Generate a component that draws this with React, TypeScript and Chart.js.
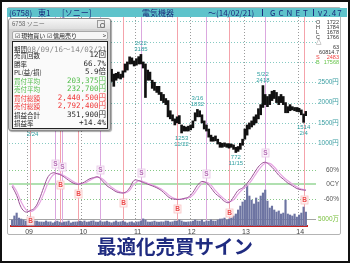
import { useEffect, useRef } from 'react';
import { Chart, registerables } from 'chart.js';

Chart.register(...registerables);

// Half-month periods: index 0 = 2008-09 (late) ... index 130 = 2014-02 (late)
const yearLabels = ['09', '10', '11', '12', '13', '14'];
const yearStartIdx = [7, 31, 55, 79, 103, 127];

// Price range per period (円)
const priceLow = [
  3300, 2600, 2000, 1900, 1750, 1800, 1880, 1850, 1650, 1491,
  1520, 1600, 1800, 2000, 2150, 2300, 2350, 2450, 2350, 2150,
  2300, 2450, 2400, 2450, 2450, 2350, 2400, 2300, 2300, 2450,
  2600, 2800, 2950, 2850, 2900, 3050, 3250, 3400, 3250, 2800,
  2700, 2700, 2450, 2350, 2520, 2400, 2550, 2600, 2580, 2620,
  2750, 2800, 2950, 2950, 2900, 2920, 2950, 2950, 2850, 2125,
  2550, 2550, 2350, 2300, 2250, 2200, 2050, 2000, 1950, 1650,
  1600, 1550, 1450, 1500, 1480, 1253, 1300, 1300, 1300, 1330,
  1380, 1550, 1650, 1650, 1500, 1350, 1300, 1150, 1050, 1050,
  1060, 980, 900, 900, 920, 900, 880, 900, 850, 772,
  800, 850, 950, 1100, 1200, 1350, 1400, 1450, 1500, 1600,
  1700, 1880, 1950, 1900, 1950, 2050, 2100, 2000, 1950, 2000,
  1950, 1750, 1750, 1800, 1820, 1800, 1780, 1770, 1700, 1514,
  1678,
];
const priceHigh = [
  3720, 3450, 2780, 2350, 2100, 2050, 2150, 2100, 1900, 1700,
  1680, 1850, 2050, 2400, 2450, 2600, 2600, 2750, 2600, 2450,
  2550, 2700, 2600, 2700, 2650, 2550, 2600, 2500, 2550, 2700,
  2720, 3300, 3300, 3100, 3100, 3350, 3600, 3650, 3500, 3300,
  2950, 2900, 2750, 2550, 2820, 2700, 2720, 2750, 2700, 2780,
  2950, 3000, 3125, 3100, 3025, 3080, 3130, 3185, 3000, 2950,
  2800, 2750, 2550, 2500, 2400, 2400, 2250, 2200, 2100, 2050,
  1800, 1700, 1600, 1650, 1680, 1450, 1420, 1400, 1420, 1450,
  1550, 1750, 1832, 1800, 1700, 1550, 1450, 1350, 1200, 1150,
  1180, 1100, 1020, 1000, 1010, 990, 990, 980, 960, 900,
  920, 1000, 1100, 1350, 1450, 1500, 1550, 1650, 1700, 1850,
  1950, 2418, 2200, 2150, 2200, 2280, 2300, 2250, 2150, 2200,
  2150, 2000, 1900, 1950, 1900, 1880, 1880, 1860, 1820, 1720,
  1784,
];

// Volume per period (万株)
const volume = [
  4300, 7200, 9300, 5700, 5000, 4300, 3600,
  4300, 6400, 5000, 3600, 3500, 2900,
  2900, 2800, 3600, 2900, 3000, 2200, 2900, 3500, 2800, 2300, 2900, 3000, 3600, 2200, 2800, 2900, 3000, 3500,
  2900, 3600, 2800, 3000, 3500, 3700, 2900, 2800, 3600, 2900, 3000, 3500, 2800, 2300, 2900, 3600, 2800, 3000, 3500, 2900, 2200, 2800, 3000, 2300,
  2900, 3000, 3600, 5100, 4300, 2900, 2800, 3000, 3500, 2900, 2800, 3000, 2900, 3600, 3500, 2800, 3000, 3600,
  3500, 4300, 3600, 2900, 2800, 3000, 2900, 3500, 4300, 3600, 3500, 4300, 2900, 3600, 3500, 4400, 3600, 3500,
  4300, 5000, 5100, 5700, 4300, 5000,
  5700, 7200, 8600, 11500, 14300, 17200, 18600, 29400, 21500, 18600, 15800, 20100, 17200, 21500, 23700, 25800, 17900,
  12900, 14300, 11500, 10000, 10800, 8600, 9300, 18600, 8600, 7900, 7200, 8600, 6400, 7900, 9300, 13600, 10000,
];

// Oscillator (%), one value every other period
const oscMain = [
  -8, -45, -95, -114, -108, -97, -62, -12, 33, 48,
  44, 37, 24, 11, 2, 2, 10, 22, 28, 31,
  14, -6, -18, -30, -35, -33, -14, 17, 16, 8,
  1, -6, -14, -25, -42, -57, -61, -62, -58, -52,
  -33, -4, 12, 6, -14, -38, -53, -70, -75, -52,
  -25, -14, 5, 30, 60, 83, 92, 80, 61, 38,
  22, 6, -5, -17, -22, -24,
];
const oscSignal = [
  0, -28, -72, -103, -113, -104, -80, -38, 8, 38,
  46, 41, 31, 18, 7, 2, 5, 15, 25, 30,
  23, 5, -11, -24, -32, -35, -24, 2, 15, 12,
  5, -2, -10, -19, -33, -49, -58, -62, -60, -56,
  -44, -19, 3, 9, -3, -26, -45, -61, -72, -64,
  -40, -20, -5, 17, 45, 71, 88, 87, 72, 50,
  31, 15, 2, -10, -19, -23,
];

// Trade signals (period index)
const buyIdx = [8, 21, 29, 49, 73, 96, 129];
const sellIdx = [19, 22, 39, 57, 86, 112];

// Marked highs / lows
const extremeIdx = [9, 57, 75, 82, 99, 111, 129];
const extremeDate = ['2/24', '2/22', '11/22', '3/16', '11/15', '5/22', '2/4'];
const extremeIsHigh = [false, true, false, true, false, true, false];

const priceTicks = [1000, 1500, 2000, 2500];
const priceGrid = [1000, 1500, 2000, 2500, 3000, 3500, 4000];
const oscLevels = [60, 0, -60];
const oscLevelLabels = ['60%', '0CY', '-60%'];
const volRef = 5000;
const volRefLabel = '5000万';

// Summary panel
const panelLabels = ['売買回数', '勝率', 'PL(益/損)', '買付平均', '売付平均', '買付総額', '売付総額', '損益合計', '損益率'];
const panelValues = ['12回', '66.7%', '5.9倍', '203,375円', '232,700円', '2,440,500円', '2,792,400円', '351,900円', '+14.4%'];
const panelColors = ['#2a2a2a', '#2a2a2a', '#2a2a2a', '#52bd4b', '#52bd4b', '#f03838', '#f03838', '#2a2a2a', '#2a2a2a'];

// Quote block
const quoteKeys = ['O', 'H', 'L', 'C', '△', '', '', 'S', 'B'];
const quoteVals = ['1722', '1784', '1678', '1766', '', '63', '60814.7', '2483', '17568'];
const quoteColors = ['#333', '#333', '#333', '#333', '#333', '#333', '#333', '#f04040', '#66c44a'];

const FONT_UI = '"Liberation Sans", Arial, "Noto Sans CJK JP", sans-serif';
const FONT_JP = '"Noto Sans CJK JP", sans-serif';
const FONT_MONO = '"DejaVu Sans Mono", "Liberation Mono", "Noto Sans CJK JP", monospace';

function oscAt(idx: number) {
  const j = idx / 2;
  const a = Math.floor(j);
  const b = Math.min(Math.ceil(j), oscMain.length - 1);
  const t = j - a;
  return oscMain[a] * (1 - t) + oscMain[b] * t;
}

const chartDecor = {
  id: 'chartDecor',
  beforeDatasetsDraw(chart: any) {
    const { ctx, chartArea: ca, scales } = chart;
    const x = scales.x, yP = scales.yPrice, yO = scales.yOsc, yV = scales.yVol;
    const lineEnd = 316;
    ctx.save();
    ctx.lineWidth = 1;
    // price grid
    ctx.setLineDash([1, 2]);
    ctx.strokeStyle = '#86c9c2';
    for (const v of priceGrid) {
      const y = Math.round(yP.getPixelForValue(v)) + 0.5;
      ctx.beginPath(); ctx.moveTo(ca.left - 2, y); ctx.lineTo(lineEnd, y); ctx.stroke();
    }
    // oscillator levels
    ctx.strokeStyle = '#86c886';
    for (const v of [60, -60]) {
      const y = Math.round(yO.getPixelForValue(v)) + 0.5;
      ctx.beginPath(); ctx.moveTo(ca.left - 2, y); ctx.lineTo(lineEnd, y); ctx.stroke();
    }
    ctx.setLineDash([]);
    ctx.strokeStyle = '#b0e0b0';
    ctx.lineWidth = 2;
    {
      const y = Math.round(yO.getPixelForValue(0));
      ctx.beginPath(); ctx.moveTo(ca.left - 2, y); ctx.lineTo(lineEnd, y); ctx.stroke();
    }
    // volume reference
    ctx.lineWidth = 1;
    ctx.strokeStyle = '#a4a4a4';
    {
      const y = Math.round(yV.getPixelForValue(volRef)) + 0.5;
      ctx.beginPath(); ctx.moveTo(ca.left - 2, y); ctx.lineTo(lineEnd, y); ctx.stroke();
    }
    // year separators
    ctx.setLineDash([1, 2]);
    ctx.strokeStyle = '#9a9a9a';
    for (const i of yearStartIdx) {
      const px = Math.round(x.getPixelForValue(i - 0.5)) + 0.5;
      ctx.beginPath(); ctx.moveTo(px, ca.top); ctx.lineTo(px, ca.bottom); ctx.stroke();
    }
    ctx.setLineDash([]);
    // signal lines
    ctx.strokeStyle = '#f4a3ab';
    for (const i of buyIdx) {
      const px = Math.round(x.getPixelForValue(i)) + 0.5;
      ctx.beginPath(); ctx.moveTo(px, ca.top); ctx.lineTo(px, ca.bottom); ctx.stroke();
    }
    ctx.strokeStyle = '#dba8df';
    for (const i of sellIdx) {
      const px = Math.round(x.getPixelForValue(i)) + 0.5;
      ctx.beginPath(); ctx.moveTo(px, ca.top); ctx.lineTo(px, ca.bottom); ctx.stroke();
    }
    ctx.restore();
  },
  afterDatasetsDraw(chart: any) {
    const { ctx, scales } = chart;
    const x = scales.x, yP = scales.yPrice, yO = scales.yOsc, yV = scales.yVol;
    ctx.save();
    // buy / sell markers
    ctx.font = 'bold 6.5px "Liberation Sans", Arial, sans-serif';
    ctx.textAlign = 'center';
    ctx.textBaseline = 'middle';
    ctx.lineWidth = 0.8;
    for (const i of buyIdx) {
      const px = Math.round(x.getPixelForValue(i));
      const py = Math.round(yO.getPixelForValue(oscAt(i))) + 10;
      ctx.fillStyle = 'rgba(255,242,242,0.9)';
      ctx.fillRect(px - 3, py - 4, 7, 8);
      ctx.strokeStyle = '#f8c4c4';
      ctx.strokeRect(px - 3, py - 4, 7, 8);
      ctx.fillStyle = '#ec4a4a';
      ctx.fillText('B', px + 0.5, py + 0.5);
    }
    for (const i of sellIdx) {
      const px = Math.round(x.getPixelForValue(i));
      const py = Math.round(yO.getPixelForValue(oscAt(i))) - 9;
      ctx.fillStyle = 'rgba(252,244,252,0.9)';
      ctx.fillRect(px - 3, py - 4, 7, 8);
      ctx.strokeStyle = '#e6c6e6';
      ctx.strokeRect(px - 3, py - 4, 7, 8);
      ctx.fillStyle = '#b46cb4';
      ctx.fillText('S', px + 0.5, py + 0.5);
    }
    // high / low annotations
    ctx.font = '6px "Liberation Sans", Arial, sans-serif';
    ctx.fillStyle = '#2f9fa0';
    extremeIdx.forEach((i, k) => {
      const px = x.getPixelForValue(i);
      if (extremeIsHigh[k]) {
        const py = yP.getPixelForValue(priceHigh[i]);
        ctx.fillText(extremeDate[k], px, py - 11);
        ctx.fillText(String(priceHigh[i]), px, py - 5);
      } else {
        const py = yP.getPixelForValue(priceLow[i]);
        ctx.fillText(String(priceLow[i]), px, py + 5);
        ctx.fillText(extremeDate[k], px, py + 11);
      }
    });
    // right-side level labels
    ctx.font = '6.5px "Liberation Sans", Arial, "Noto Sans CJK JP", sans-serif';
    ctx.textAlign = 'right';
    ctx.fillStyle = '#555';
    oscLevels.forEach((v, k) => ctx.fillText(oscLevelLabels[k], 339, yO.getPixelForValue(v)));
    ctx.fillStyle = '#78bf3c';
    ctx.fillText(volRefLabel, 339, yV.getPixelForValue(volRef));
    ctx.restore();
  },
};

export default function App() {
  const canvasRef = useRef<HTMLCanvasElement>(null);

  useEffect(() => {
    Chart.defaults.font.family = '"Liberation Sans", Arial, sans-serif';
    const chart = new Chart(canvasRef.current as HTMLCanvasElement, {
      type: 'bar',
      data: {
        datasets: [
          {
            type: 'bar',
            label: '株価',
            data: priceHigh.map((h, i) => ({ x: i, y: [priceLow[i], h] })) as any,
            backgroundColor: '#111',
            barThickness: 2,
            grouped: false,
            yAxisID: 'yPrice',
            order: 0,
          },
          {
            type: 'line',
            label: 'オシレーター',
            data: oscMain.map((v, k) => ({ x: k * 2, y: v })),
            borderColor: '#9a4f95',
            borderWidth: 1,
            pointRadius: 0,
            tension: 0.4,
            yAxisID: 'yOsc',
            order: 1,
          },
          {
            type: 'line',
            label: 'シグナル',
            data: oscSignal.map((v, k) => ({ x: k * 2, y: v })),
            borderColor: '#e6a3e2',
            borderWidth: 1.2,
            pointRadius: 0,
            tension: 0.4,
            yAxisID: 'yOsc',
            order: 2,
          },
          {
            type: 'bar',
            label: '出来高',
            data: volume.map((v, i) => ({ x: i, y: v })),
            backgroundColor: '#6d74a2',
            barThickness: 1.5,
            grouped: false,
            yAxisID: 'yVol',
            order: 3,
          },
        ],
      },
      options: {
        responsive: false,
        devicePixelRatio: 1,
        animation: false,
        events: [],
        layout: { padding: { left: 11, top: 17, right: 0, bottom: 0 } },
        plugins: { legend: { display: false }, tooltip: { enabled: false } },
        scales: {
          x: {
            type: 'linear',
            min: -0.5,
            max: 130.5,
            offset: false,
            grid: { display: false, drawTicks: false },
            border: { display: true, color: '#c42222', width: 2 },
            afterBuildTicks: (axis: any) => {
              axis.ticks = yearStartIdx.map((v) => ({ value: v + 0.5 }));
            },
            afterFit: (axis: any) => {
              axis.height = 37;
            },
            ticks: {
              autoSkip: false,
              maxRotation: 0,
              padding: 2,
              color: '#444',
              font: { size: 7 },
              callback: (v: any) => {
                const k = yearStartIdx.indexOf(Math.round(Number(v) - 0.5));
                return k >= 0 ? yearLabels[k] : '';
              },
            },
          },
          yPrice: {
            type: 'linear',
            position: 'right',
            min: -1035,
            max: 4105,
            grid: { display: false, drawTicks: false },
            border: { display: false },
            afterBuildTicks: (axis: any) => {
              axis.ticks = priceTicks.map((v) => ({ value: v }));
            },
            afterFit: (axis: any) => {
              axis.width = 43;
            },
            ticks: {
              padding: 11,
              crossAlign: 'near',
              color: '#3b9ea2',
              font: { size: 6.5 },
              callback: (v: any) => `${v}円`,
            },
          },
          yOsc: { type: 'linear', display: false, min: -172, max: 693 },
          yVol: { type: 'linear', display: false, min: 0, max: 150000 },
        },
      } as any,
      plugins: [chartDecor],
    });
    return () => chart.destroy();
  }, []);

  const rowH = 8.51;

  return (
    <div style={{ position: 'absolute', left: 0, top: 0, width: 350, height: 263, background: '#fff', overflow: 'hidden', fontFamily: FONT_UI }}>
      <canvas ref={canvasRef} width={350} height={263} style={{ position: 'absolute', left: 0, top: 0 }} />

      {/* chart frame */}
      <div style={{ position: 'absolute', left: 7, top: 7, width: 334, height: 228, border: '1px solid #b4b4b4', borderRadius: 2, boxSizing: 'border-box' }} />

      {/* header bar */}
      <div style={{ position: 'absolute', left: 7, top: 8, width: 340, height: 9, background: '#5ec3cb', color: '#1b2c7c', fontFamily: FONT_JP, fontSize: 8, lineHeight: '9px', whiteSpace: 'nowrap' }}>
        <span style={{ position: 'absolute', left: 2 }}>(6758)</span>
        <span style={{ position: 'absolute', left: 31 }}>東1</span>
        <span style={{ position: 'absolute', left: 55 }}>[ソニー]</span>
        <span style={{ position: 'absolute', left: 135 }}>電気機器</span>
        <span style={{ position: 'absolute', left: 201 }}>～(14/02/21)</span>
        <span style={{ position: 'absolute', left: 255, top: 1, width: 1, height: 7, background: '#1b2c7c' }} />
        <span style={{ position: 'absolute', left: 263, letterSpacing: 3 }}>GCNET</span>
        <span style={{ position: 'absolute', left: 306, top: 1, width: 1, height: 7, background: '#1b2c7c' }} />
        <span style={{ position: 'absolute', left: 311, letterSpacing: 1 }}>v2.47</span>
      </div>

      {/* quote block */}
      {quoteKeys.map((k, r) => (
        <div key={r} style={{ position: 'absolute', left: 316, top: 19 + r * 5, width: 23, height: 6, fontSize: 5.5, lineHeight: '6px', color: quoteColors[r], whiteSpace: 'nowrap' }}>
          <span style={{ position: 'absolute', left: 0 }}>{k}</span>
          <span style={{ position: 'absolute', right: 0 }}>{quoteVals[r]}</span>
        </div>
      ))}

      {/* summary panel */}
      <div style={{ position: 'absolute', left: 8, top: 18, width: 103, height: 113, background: '#d2d2d2', border: '1px solid #8c8c8c', borderRadius: 3, boxSizing: 'border-box', boxShadow: '1px 1px 1px rgba(0,0,0,0.35)' }}>
        <div style={{ position: 'absolute', left: 0, top: 0, width: 101, height: 10, background: 'linear-gradient(#f6f6f6, #dedede)', borderRadius: '2px 2px 0 0' }} />
        <div style={{ position: 'absolute', left: 3, top: 1, fontSize: 6, lineHeight: '8px', color: '#666', fontFamily: FONT_JP, whiteSpace: 'nowrap' }}>6758 ソニー</div>
        <div style={{ position: 'absolute', left: 88, top: 1, width: 8, height: 8, border: '1px solid #9a9a9a', background: '#ececec', boxSizing: 'border-box' }}>
          <div style={{ position: 'absolute', left: 1.5, top: 1.5, width: 3, height: 3, borderRadius: 2, border: '0.5px solid #777' }} />
        </div>
        <div style={{ position: 'absolute', left: 3, top: 12, width: 96, height: 9, border: '1px solid #a8a8a8', borderRadius: 2, background: '#f6f6f6', boxSizing: 'border-box', fontSize: 6, lineHeight: '7px', fontFamily: FONT_JP, color: '#222', whiteSpace: 'nowrap', overflow: 'hidden' }}>
          <span style={{ position: 'absolute', left: 2 }}>☑ 現物買い ☑ 信用売り</span>
          <span style={{ position: 'absolute', right: 1 }}>&gt;</span>
        </div>
        <div style={{ position: 'absolute', left: 3, top: 22, width: 96, height: 88, border: '1px solid #222', background: '#fafafa', boxSizing: 'border-box' }}>
          <div style={{ position: 'absolute', left: 1, top: 0.5, height: rowH, lineHeight: `${rowH}px`, whiteSpace: 'nowrap' }}>
            <span style={{ fontFamily: FONT_JP, fontSize: 6.5, color: '#2a2a2a' }}>期間</span>
            <span style={{ fontFamily: FONT_MONO, fontSize: 7.5, color: '#8a8a8a' }}>08/09/16～14/02/21</span>
          </div>
          {panelLabels.map((lab, r) => (
            <div key={lab} style={{ position: 'absolute', left: 1, right: 1, top: 0.5 + (r + 1) * rowH, height: rowH, lineHeight: `${rowH}px`, color: panelColors[r], whiteSpace: 'nowrap' }}>
              <span style={{ position: 'absolute', left: 0, fontFamily: FONT_JP, fontSize: 6.5 }}>{lab}</span>
              <span style={{ position: 'absolute', right: 0, fontFamily: FONT_MONO, fontSize: 7.5 }}>{panelValues[r]}</span>
            </div>
          ))}
        </div>
      </div>

      {/* title */}
      <div style={{ position: 'absolute', left: 0, top: 236, width: 350, textAlign: 'center', fontFamily: FONT_JP, fontWeight: 700, fontSize: 19.5, lineHeight: '20px', color: '#1f2b80', whiteSpace: 'nowrap' }}>
        最適化売買サイン
      </div>

      {/* outer border */}
      <div style={{ position: 'absolute', left: 0, top: 0, width: 350, height: 263, border: '2px solid #111', boxSizing: 'border-box' }} />
    </div>
  );
}
